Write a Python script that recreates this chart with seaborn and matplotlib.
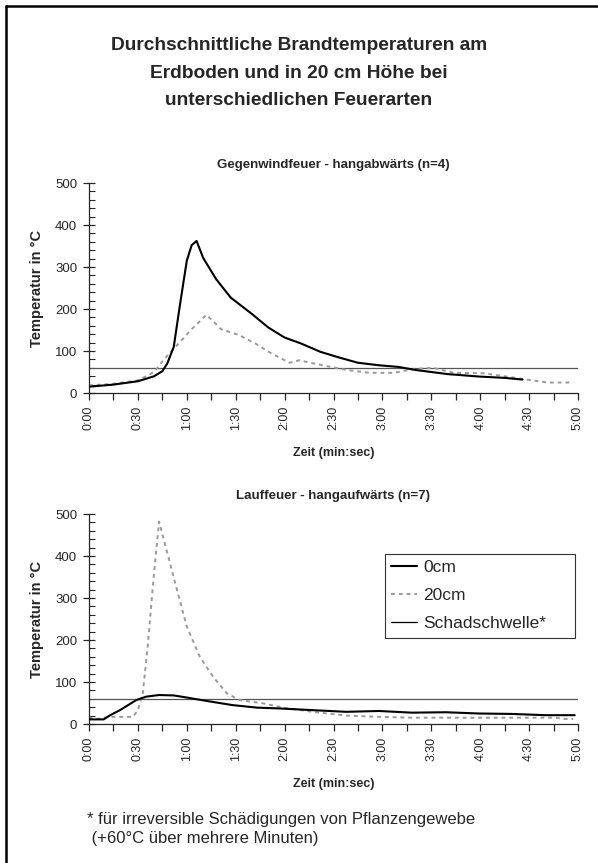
import matplotlib
matplotlib.use("Agg")
import matplotlib.pyplot as plt
import seaborn as sns
import pandas as pd
from matplotlib.lines import Line2D
from matplotlib.ticker import MultipleLocator

# ---- data ----
top_t_0cm = [0, 15, 30, 40, 45, 48, 52, 56, 60, 63, 66, 70, 78, 87, 100, 110, 120, 130, 142, 153, 165, 178, 190, 200, 220, 240, 255, 266]
top_T_0cm = [15, 20, 28, 40, 52, 70, 110, 215, 315, 352, 362, 322, 271, 227, 188, 156, 132, 118, 98, 85, 72, 66, 62, 55, 45, 39, 36, 32]
top_t_20cm = [0, 15, 30, 40, 45, 49, 56, 63, 72, 78, 81, 92, 102, 112, 123, 129, 137, 146, 158, 172, 187, 199, 211, 224, 242, 260, 281, 297]
top_T_20cm = [18, 22, 30, 50, 75, 93, 122, 152, 186, 164, 152, 138, 118, 94, 72, 78, 71, 64, 55, 48, 48, 57, 60, 48, 47, 37, 25, 25]

bot_t_0cm = [0, 9, 13, 19, 29, 35, 43, 52, 60, 72, 88, 103, 117, 137, 158, 178, 198, 219, 239, 259, 280, 298]
bot_T_0cm = [11, 11, 21, 33, 57, 65, 69, 68, 63, 55, 45, 39, 37, 33, 29, 31, 27, 28, 25, 24, 21, 21]
bot_t_20cm = [0, 3, 13, 27, 30, 33, 36, 39.5, 43, 46.5, 54, 60, 68, 76, 84.5, 92.5, 107, 119, 137, 158, 178, 198, 240, 286, 292, 297]
bot_T_20cm = [17, 11, 17, 17, 33, 73, 184, 343, 482, 430, 319, 232, 160, 113, 73, 57, 49, 39, 29, 20, 17, 15, 15, 15, 12, 12]

threshold = 60
x_tick_seconds = [0, 30, 60, 90, 120, 150, 180, 210, 240, 270, 300]
x_tick_labels = ["0:00", "0:30", "1:00", "1:30", "2:00", "2:30", "3:00", "3:30", "4:00", "4:30", "5:00"]
y_ticks = [0, 100, 200, 300, 400, 500]

title = "Durchschnittliche Brandtemperaturen am\nErdboden und in 20 cm Höhe bei\nunterschiedlichen Feuerarten"
sub_top = "Gegenwindfeuer - hangabwärts (n=4)"
sub_bot = "Lauffeuer - hangaufwärts (n=7)"
footnote = "* für irreversible Schädigungen von Pflanzengewebe\n (+60°C über mehrere Minuten)"

sns.set_style("ticks")
plt.rcParams["font.family"] = ["Liberation Sans", "DejaVu Sans"]

W, H = 598, 863
fig = plt.figure(figsize=(W / 100, H / 100), dpi=100)

def px_axes(left, right, top, bottom):
    return [left / W, 1 - bottom / H, (right - left) / W, (bottom - top) / H]

ax1 = fig.add_axes(px_axes(89, 578, 183, 393))
ax2 = fig.add_axes(px_axes(89, 578, 514, 724))

gray_dash = (0, (2, 2))

def panel(ax, t0, T0, t20, T20, subtitle):
    d0 = pd.DataFrame({"t": t0, "T": T0})
    d20 = pd.DataFrame({"t": t20, "T": T20})
    ax.axhline(threshold, color="#555555", lw=0.9, zorder=1)
    sns.lineplot(data=d20, x="t", y="T", ax=ax, color="#999999", lw=1.4,
                 linestyle=gray_dash, zorder=2)
    sns.lineplot(data=d0, x="t", y="T", ax=ax, color="black", lw=1.5, zorder=3)
    ax.set_xlim(0, 300)
    ax.set_ylim(0, 500)
    sns.despine(ax=ax)
    ax.spines["left"].set_linewidth(0.9)
    ax.spines["bottom"].set_linewidth(0.9)
    ax.set_xticks(x_tick_seconds)
    ax.set_xticklabels(x_tick_labels, rotation=90, fontsize=9)
    ax.xaxis.set_minor_locator(MultipleLocator(15))
    ax.set_yticks(y_ticks)
    ax.set_yticklabels([str(v) for v in y_ticks], fontsize=9.5)
    ax.yaxis.set_minor_locator(MultipleLocator(20))
    ax.tick_params(axis="x", which="both", direction="out", length=5, width=0.9, pad=4)
    ax.tick_params(axis="y", which="major", direction="inout", length=9, width=0.9, pad=4)
    ax.tick_params(axis="y", which="minor", direction="in", length=4, width=0.8)
    ax.set_xlabel("Zeit (min:sec)", fontsize=9, fontweight="bold", labelpad=12)
    ax.set_ylabel("Temperatur in °C", fontsize=10.5, fontweight="bold", labelpad=8)
    ax.set_title(subtitle, fontsize=9.5, fontweight="bold", pad=11)
    ax.set_facecolor("white")

panel(ax1, top_t_0cm, top_T_0cm, top_t_20cm, top_T_20cm, sub_top)
panel(ax2, bot_t_0cm, bot_T_0cm, bot_t_20cm, bot_T_20cm, sub_bot)

handles = [
    Line2D([], [], color="black", lw=1.5),
    Line2D([], [], color="#999999", lw=1.4, linestyle=gray_dash),
    Line2D([], [], color="black", lw=0.9),
]
leg = ax2.legend(handles, ["0cm", "20cm", "Schadschwelle*"], loc="upper left",
                 bbox_to_anchor=(0.605, 0.395, 0.389, 0.415), mode="expand",
                 borderaxespad=0, fontsize=12.5,
                 frameon=True, fancybox=False, handlelength=1.5, handletextpad=0.35,
                 borderpad=0.35, labelspacing=0.75)
leg.get_frame().set_edgecolor("black")
leg.get_frame().set_linewidth(0.8)

fig.text(299 / W, 1 - 73 / H, title, ha="center", va="center", fontsize=13.8,
         fontweight="bold", linespacing=1.8)
fig.text(87 / W, 1 - 829 / H, footnote, ha="left", va="center", fontsize=12,
         linespacing=1.3)

# figure frame (left and top edges visible)
fig.add_artist(Line2D([6 / W, 6 / W], [0, 1 - 6 / H], color="black", lw=1.8,
                      transform=fig.transFigure))
fig.add_artist(Line2D([6 / W, 1], [1 - 6 / H, 1 - 6 / H], color="black", lw=1.8,
                      transform=fig.transFigure))

fig.savefig("out.png", dpi=100, facecolor="white")
